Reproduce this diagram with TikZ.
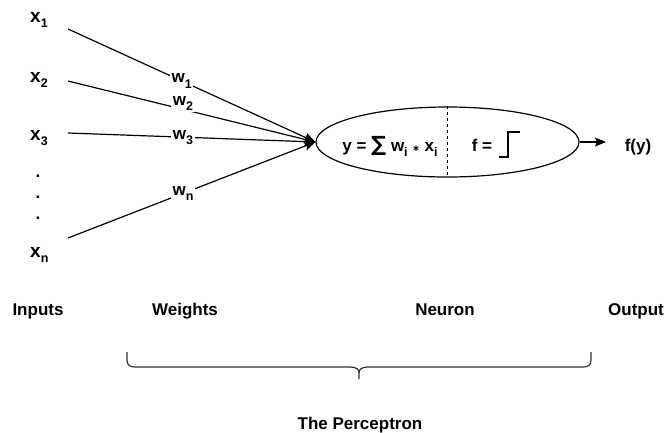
\documentclass[tikz,border=0pt]{standalone}
\usepackage{fontspec}
\setmainfont{Liberation Sans}
\newfontfamily\symfont{DejaVu Sans}
\usetikzlibrary{arrows.meta,shapes.geometric}
\newcommand\lowsub[1]{\raisebox{-0.3em}{\fontsize{12.5}{12.5}\selectfont #1}}
\begin{document}
\begin{tikzpicture}[x=1pt,y=-1pt,
  font=\bfseries\fontsize{17}{19}\selectfont,
  lbl/.style={inner sep=0pt},
  xlab/.style={inner sep=0pt,anchor=base west,font=\bfseries\fontsize{19}{21}\selectfont},
  wlab/.style={fill=white,inner sep=1.5pt},
  conn/.style={line width=1.2pt,-{Stealth[length=11pt,width=9pt,inset=2pt]}},
]
\useasboundingbox (0,0) rectangle (667,432);
% inputs
\node[xlab] (x1) at (30,22) {x\lowsub{1}};
\node[xlab] (x2) at (30,82) {x\lowsub{2}};
\node[xlab] (x3) at (30,140) {x\lowsub{3}};
\node[lbl,anchor=base] (d1) at (38,177) {.};
\node[lbl,anchor=base] (d2) at (38,198) {.};
\node[lbl,anchor=base] (d3) at (38,219) {.};
\node[xlab] (xn) at (30,257) {x\lowsub{n}};
\coordinate (s1) at (68,29);
\coordinate (s2) at (68,81);
\coordinate (s3) at (68,133);
\coordinate (sn) at (68,238);
% neuron
\node[ellipse,draw,line width=1.2pt,minimum width=263pt,minimum height=70pt,inner sep=0pt] (n) at (447.5,142) {};
\draw[dashed,line width=1.2pt] (n.north) -- (n.south);
\draw[conn] (s1) -- node[wlab,pos=0.46]{w\lowsub{1}} (n.west);
\draw[conn] (s2) -- node[wlab,pos=0.465,yshift=6pt]{w\lowsub{2}} (n.west);
\draw[conn] (s3) -- node[wlab,pos=0.465]{w\lowsub{3}} (n.west);
\draw[conn] (sn) -- node[wlab,pos=0.465]{w\lowsub{n}} (n.west);
\node[lbl,anchor=base] (sum) at (390,151) {y = {\symfont\fontsize{21}{21}\selectfont ∑} w\lowsub{i} {\symfont\fontsize{9}{9}\selectfont ∗} x\lowsub{i}};
\node[lbl,anchor=base] (f) at (482,151) {f =};
\draw[line width=2.8pt] (499,157) -- (508,157) -- (508,132) -- (520,132);
% output
\node[lbl,anchor=base] (fy) at (638,151) {f(y)};
\coordinate (o) at (606,142);
\draw[conn] (n.east) -- (o);
% captions
\node[lbl,anchor=base] (inp) at (38,315) {Inputs};
\node[lbl,anchor=base] (wts) at (185,315) {Weights};
\node[lbl,anchor=base] (neu) at (445,315) {Neuron};
\node[lbl,anchor=base] (out) at (636,315) {Output};
\draw[line width=1.2pt,black!80] (127,352) -- (127,360) .. controls (127,365) and (130,367) .. (135,367) -- (350,367) .. controls (356,367) and (359,369) .. (359,373) -- (359,379);
\draw[line width=1.2pt,black!80] (591,352) -- (591,360) .. controls (591,365) and (588,367) .. (583,367) -- (368,367) .. controls (362,367) and (359,369) .. (359,373);
\node[lbl,anchor=base] (title) at (360,429) {The Perceptron};
\end{tikzpicture}
\end{document}
